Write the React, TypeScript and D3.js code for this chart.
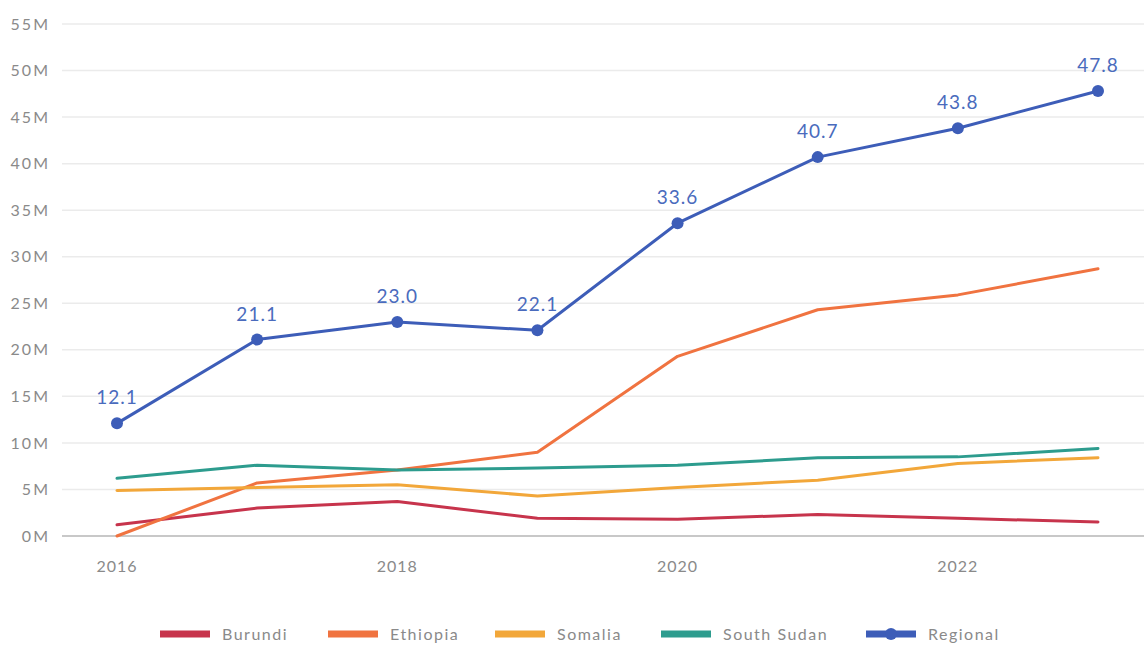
import React from "react";
import * as d3 from "d3";

const years = [2016, 2017, 2018, 2019, 2020, 2021, 2022, 2023];
const burundi = [1.2, 3.0, 3.7, 1.9, 1.8, 2.3, 1.9, 1.5];
const ethiopia = [0.0, 5.7, 7.1, 9.0, 19.3, 24.3, 25.9, 28.7];
const somalia = [4.9, 5.2, 5.5, 4.3, 5.2, 6.0, 7.8, 8.4];
const southSudan = [6.2, 7.6, 7.1, 7.3, 7.6, 8.4, 8.5, 9.4];
const regional = [12.1, 21.1, 23.0, 22.1, 33.6, 40.7, 43.8, 47.8];
const yTicks = [0, 5, 10, 15, 20, 25, 30, 35, 40, 45, 50, 55];
const xTicks = [2016, 2018, 2020, 2022];

const seriesNames = ["Burundi", "Ethiopia", "Somalia", "South Sudan", "Regional"];
const seriesColors = ["#c7344c", "#f07340", "#f2a73a", "#2d9c8e", "#3d5db8"];
const seriesValues = [burundi, ethiopia, somalia, southSudan, regional];

const W = 1144;
const H = 645;
const FONT = "Lato, 'Open Sans', sans-serif";

export default function App() {
  const x = d3.scaleLinear().domain([2016, 2023]).range([117, 1098]);
  const y = d3.scaleLinear().domain([0, 55]).range([536, 24]);
  const line = d3
    .line<number>()
    .x((_, i) => x(years[i]))
    .y((d) => y(d));

  const legendX = [160, 328, 495, 661, 866];

  return (
    <svg
      width={W}
      height={H}
      style={{ position: "absolute", left: 0, top: 0, background: "#fff" }}
      fontFamily={FONT}
    >
      {yTicks.map((t) => (
        <g key={t}>
          <line
            x1={62}
            x2={W}
            y1={y(t)}
            y2={y(t)}
            stroke={t === 0 ? "#c8c8c8" : "#ebebeb"}
            strokeWidth={t === 0 ? 2 : 1.5}
          />
          <text
            x={50}
            y={y(t)}
            dy="0.35em"
            textAnchor="end"
            fontSize={16}
            letterSpacing={2}
            fill="#8a8a8a"
          >
            {t}M
          </text>
        </g>
      ))}
      {xTicks.map((t) => (
        <text
          key={t}
          x={x(t)}
          y={572}
          textAnchor="middle"
          fontSize={16}
          letterSpacing={1}
          fill="#8a8a8a"
        >
          {t}
        </text>
      ))}
      {seriesValues.map((vals, si) => (
        <path
          key={seriesNames[si]}
          d={line(vals) || ""}
          fill="none"
          stroke={seriesColors[si]}
          strokeWidth={3}
          strokeLinejoin="round"
          strokeLinecap="round"
        />
      ))}
      {regional.map((v, i) => (
        <g key={i}>
          <circle cx={x(years[i])} cy={y(v)} r={6} fill={seriesColors[4]} />
          <text
            x={x(years[i])}
            y={y(v) - 19}
            textAnchor="middle"
            fontSize={19}
            letterSpacing={1}
            fill="#4a6bbd"
          >
            {v.toFixed(1)}
          </text>
        </g>
      ))}
      {seriesNames.map((name, i) => (
        <g key={name}>
          <line
            x1={legendX[i]}
            x2={legendX[i] + 50}
            y1={634}
            y2={634}
            stroke={seriesColors[i]}
            strokeWidth={7}
          />
          {i === 4 && (
            <circle cx={legendX[i] + 25} cy={634} r={6} fill={seriesColors[i]} />
          )}
          <text
            x={legendX[i] + 62}
            y={634}
            dy="0.35em"
            fontSize={16}
            letterSpacing={1.5}
            fill="#8a8a8a"
          >
            {name}
          </text>
        </g>
      ))}
    </svg>
  );
}
